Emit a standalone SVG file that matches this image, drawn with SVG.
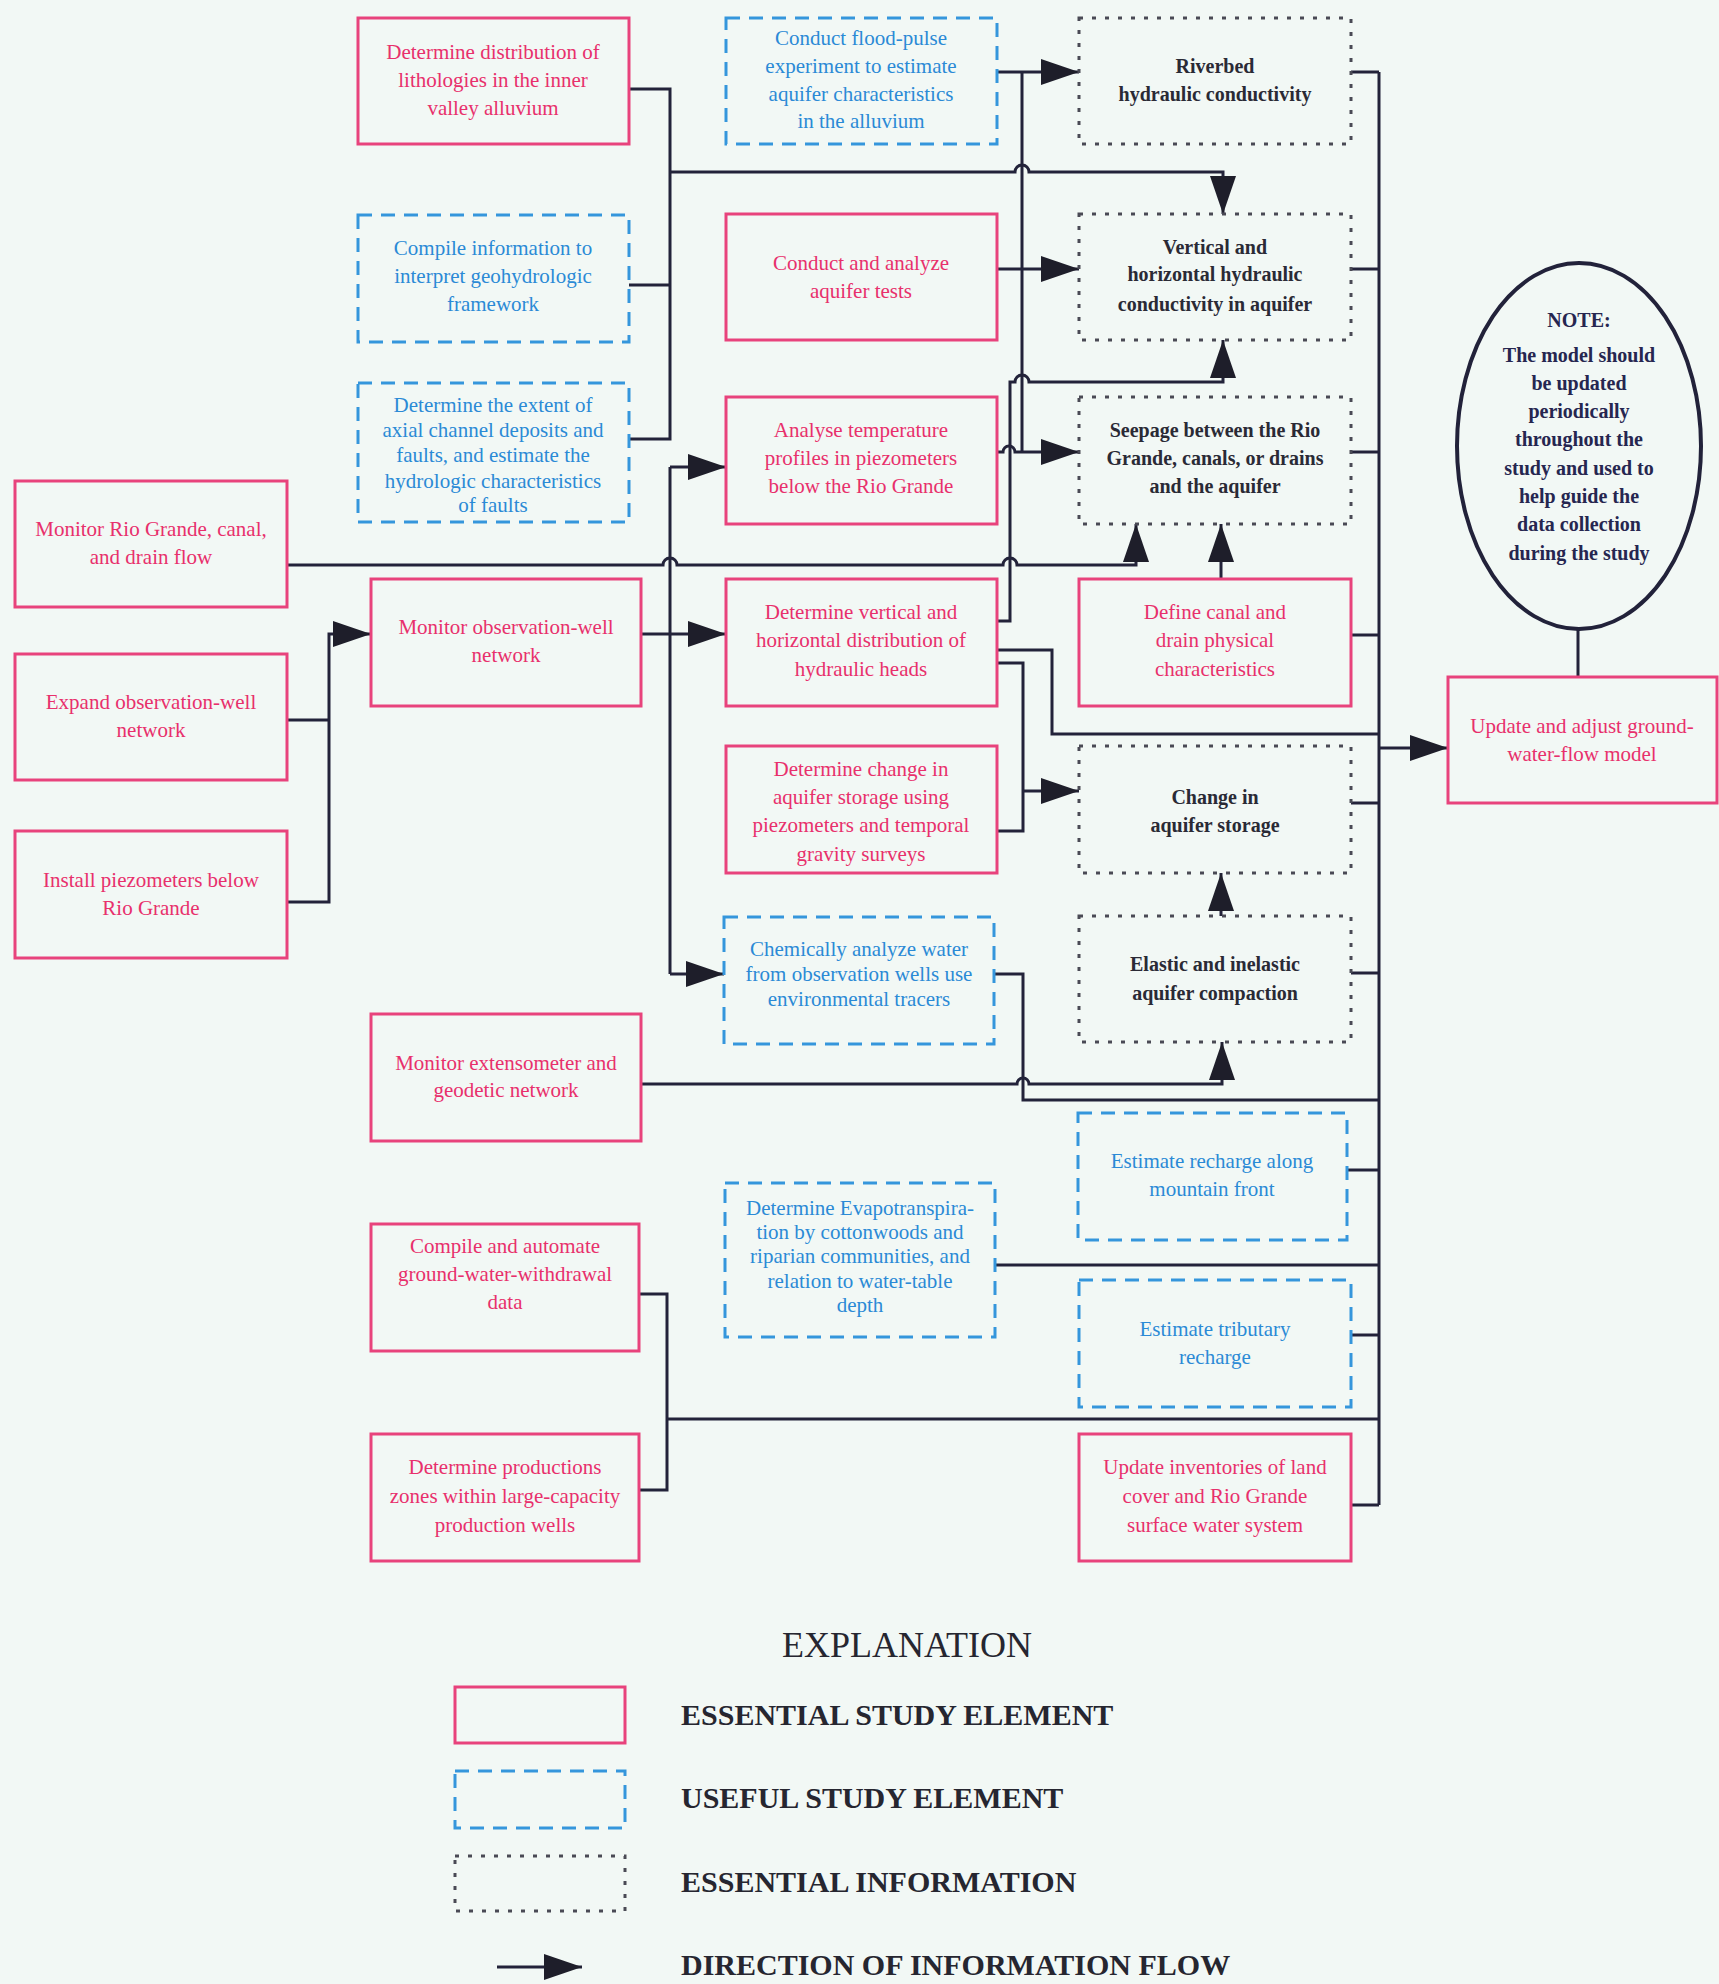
<svg xmlns="http://www.w3.org/2000/svg" width="1719" height="1984" viewBox="0 0 1719 1984">
<defs>
<marker id="ah" markerUnits="userSpaceOnUse" markerWidth="40" markerHeight="28" refX="38" refY="14" orient="auto">
<path d="M0,1 L38,14 L0,27 Z" fill="#1e1e2a"/>
</marker>
<style>
.ess{fill:none;stroke:#e8437c;stroke-width:3}
.use{fill:none;stroke:#3596dc;stroke-width:3;stroke-dasharray:14 9}
.inf{fill:none;stroke:#4a4a55;stroke-width:3;stroke-dasharray:4 9}
.c{fill:none;stroke:#23233a;stroke-width:3}
.ca{fill:none;stroke:#23233a;stroke-width:3;marker-end:url(#ah)}
text{font-family:"Liberation Serif","Times New Roman",serif;text-anchor:middle}
.tp{fill:#e8306c;font-size:21px}
.tb{fill:#2b8ad6;font-size:21px}
.td{fill:#2a2a35;font-size:20px;font-weight:bold}
.tn{fill:#262650;font-size:20px;font-weight:bold}
.lg{fill:#262630;font-size:30px;font-weight:bold;text-anchor:start}
</style>
</defs>
<rect width="1719" height="1984" fill="#f2f8f5"/>

<g id="connectors">
<path class="c" d="M287,720 H329"/>
<path class="ca" d="M287,902 H329 V634 H371"/>
<path class="c" d="M629,89 H670 V439 H629"/>
<path class="c" d="M629,285 H670"/>
<path class="ca" d="M670,172 H1015 A7,7 0 0 1 1029,172 H1223 V214"/>
<path class="c" d="M670,467 V974"/>
<path class="ca" d="M670,467 H726"/>
<path class="ca" d="M670,974 H724"/>
<path class="ca" d="M641,634 H726"/>
<path class="ca" d="M287,565 H663 A7,7 0 0 1 677,565 H1003 A7,7 0 0 1 1017,565 H1136 V524"/>
<path class="ca" d="M997,72 H1079"/>
<path class="c" d="M1022,72 V452"/>
<path class="ca" d="M997,269 H1079"/>
<path class="ca" d="M997,452 H1003 A6,6 0 0 1 1015,452 H1079"/>
<path class="ca" d="M997,621 H1010 V382 H1015 A7,7 0 0 1 1029,382 H1223 V340"/>
<path class="c" d="M997,650 H1052 V734 H1379"/>
<path class="c" d="M997,663 H1023 V831 H997"/>
<path class="ca" d="M1023,791 H1079"/>
<path class="ca" d="M1221,579 V524"/>
<path class="ca" d="M1221,916 V873"/>
<path class="c" d="M994,974 H1023 V1100 H1379"/>
<path class="ca" d="M641,1084 H1017 A6,6 0 0 1 1029,1084 H1222 V1042"/>
<path class="c" d="M1379,72 V1505"/>
<path class="c" d="M1351,72 H1379"/>
<path class="c" d="M1351,269 H1379"/>
<path class="c" d="M1351,452 H1379"/>
<path class="c" d="M1351,635 H1379"/>
<path class="c" d="M1351,803 H1379"/>
<path class="c" d="M1351,973 H1379"/>
<path class="c" d="M1347,1170 H1379"/>
<path class="c" d="M995,1265 H1379"/>
<path class="c" d="M1351,1335 H1379"/>
<path class="c" d="M1351,1505 H1379"/>
<path class="c" d="M639,1294 H667 V1490 H639"/>
<path class="c" d="M667,1419 H1379"/>
<path class="ca" d="M1379,748 H1448"/>
<path class="c" d="M1578,629 V677" stroke-width="4"/>
</g>

<g id="n-monitor-rio">
<rect class="ess" x="15" y="481" width="272" height="126"/>
<text class="tp" x="151" y="536">Monitor Rio Grande, canal,</text>
<text class="tp" x="151" y="564">and drain flow</text>
</g>
<g id="n-expand">
<rect class="ess" x="15" y="654" width="272" height="126"/>
<text class="tp" x="151" y="709">Expand observation-well</text>
<text class="tp" x="151" y="737">network</text>
</g>
<g id="n-install">
<rect class="ess" x="15" y="831" width="272" height="127"/>
<text class="tp" x="151" y="887">Install piezometers below</text>
<text class="tp" x="151" y="915">Rio Grande</text>
</g>

<g id="n-lithology">
<rect class="ess" x="358" y="18" width="271" height="126"/>
<text class="tp" x="493" y="59">Determine distribution of</text>
<text class="tp" x="493" y="87">lithologies in the inner</text>
<text class="tp" x="493" y="115">valley alluvium</text>
</g>
<g id="n-geohydro">
<rect class="use" x="358" y="215" width="271" height="127"/>
<text class="tb" x="493" y="255">Compile information to</text>
<text class="tb" x="493" y="283">interpret geohydrologic</text>
<text class="tb" x="493" y="311">framework</text>
</g>
<g id="n-axial">
<rect class="use" x="358" y="383" width="271" height="139"/>
<text class="tb" x="493" y="412">Determine the extent of</text>
<text class="tb" x="493" y="437">axial channel deposits and</text>
<text class="tb" x="493" y="462">faults, and estimate the</text>
<text class="tb" x="493" y="488">hydrologic characteristics</text>
<text class="tb" x="493" y="512">of faults</text>
</g>
<g id="n-obswell">
<rect class="ess" x="371" y="579" width="270" height="127"/>
<text class="tp" x="506" y="634">Monitor observation-well</text>
<text class="tp" x="506" y="662">network</text>
</g>
<g id="n-extensometer">
<rect class="ess" x="371" y="1014" width="270" height="127"/>
<text class="tp" x="506" y="1070">Monitor extensometer and</text>
<text class="tp" x="506" y="1097">geodetic network</text>
</g>
<g id="n-withdrawal">
<rect class="ess" x="371" y="1224" width="268" height="127"/>
<text class="tp" x="505" y="1253">Compile and automate</text>
<text class="tp" x="505" y="1281">ground-water-withdrawal</text>
<text class="tp" x="505" y="1309">data</text>
</g>
<g id="n-production">
<rect class="ess" x="371" y="1434" width="268" height="127"/>
<text class="tp" x="505" y="1474">Determine productions</text>
<text class="tp" x="505" y="1503">zones within large-capacity</text>
<text class="tp" x="505" y="1532">production wells</text>
</g>

<g id="n-floodpulse">
<rect class="use" x="726" y="18" width="271" height="126"/>
<text class="tb" x="861" y="45">Conduct flood-pulse</text>
<text class="tb" x="861" y="73">experiment to estimate</text>
<text class="tb" x="861" y="101">aquifer characteristics</text>
<text class="tb" x="861" y="128">in the alluvium</text>
</g>
<g id="n-aquifertests">
<rect class="ess" x="726" y="214" width="271" height="126"/>
<text class="tp" x="861" y="270">Conduct and analyze</text>
<text class="tp" x="861" y="298">aquifer tests</text>
</g>
<g id="n-temperature">
<rect class="ess" x="726" y="397" width="271" height="127"/>
<text class="tp" x="861" y="437">Analyse temperature</text>
<text class="tp" x="861" y="465">profiles in piezometers</text>
<text class="tp" x="861" y="493">below the Rio Grande</text>
</g>
<g id="n-heads">
<rect class="ess" x="726" y="579" width="271" height="127"/>
<text class="tp" x="861" y="619">Determine vertical and</text>
<text class="tp" x="861" y="647">horizontal distribution of</text>
<text class="tp" x="861" y="676">hydraulic heads</text>
</g>
<g id="n-storage-change">
<rect class="ess" x="726" y="746" width="271" height="127"/>
<text class="tp" x="861" y="776">Determine change in</text>
<text class="tp" x="861" y="804">aquifer storage using</text>
<text class="tp" x="861" y="832">piezometers and temporal</text>
<text class="tp" x="861" y="861">gravity surveys</text>
</g>
<g id="n-chemical">
<rect class="use" x="724" y="917" width="270" height="127"/>
<text class="tb" x="859" y="956">Chemically analyze water</text>
<text class="tb" x="859" y="981">from observation wells use</text>
<text class="tb" x="859" y="1006">environmental tracers</text>
</g>
<g id="n-evapo">
<rect class="use" x="725" y="1183" width="270" height="154"/>
<text class="tb" x="860" y="1215">Determine Evapotranspira-</text>
<text class="tb" x="860" y="1239">tion by cottonwoods and</text>
<text class="tb" x="860" y="1263">riparian communities, and</text>
<text class="tb" x="860" y="1288">relation to water-table</text>
<text class="tb" x="860" y="1312">depth</text>
</g>

<g id="n-riverbed">
<rect class="inf" x="1079" y="18" width="272" height="126"/>
<text class="td" x="1215" y="73">Riverbed</text>
<text class="td" x="1215" y="101">hydraulic conductivity</text>
</g>
<g id="n-vhk">
<rect class="inf" x="1079" y="214" width="272" height="126"/>
<text class="td" x="1215" y="254">Vertical and</text>
<text class="td" x="1215" y="281">horizontal hydraulic</text>
<text class="td" x="1215" y="311">conductivity in aquifer</text>
</g>
<g id="n-seepage">
<rect class="inf" x="1079" y="397" width="272" height="127"/>
<text class="td" x="1215" y="437">Seepage between the Rio</text>
<text class="td" x="1215" y="465">Grande, canals, or drains</text>
<text class="td" x="1215" y="493">and the aquifer</text>
</g>
<g id="n-canal">
<rect class="ess" x="1079" y="579" width="272" height="127"/>
<text class="tp" x="1215" y="619">Define canal and</text>
<text class="tp" x="1215" y="647">drain physical</text>
<text class="tp" x="1215" y="676">characteristics</text>
</g>
<g id="n-change-storage">
<rect class="inf" x="1079" y="746" width="272" height="127"/>
<text class="td" x="1215" y="804">Change in</text>
<text class="td" x="1215" y="832">aquifer storage</text>
</g>
<g id="n-compaction">
<rect class="inf" x="1079" y="916" width="272" height="126"/>
<text class="td" x="1215" y="971">Elastic and inelastic</text>
<text class="td" x="1215" y="1000">aquifer compaction</text>
</g>
<g id="n-recharge-mountain">
<rect class="use" x="1078" y="1113" width="269" height="127"/>
<text class="tb" x="1212" y="1168">Estimate recharge along</text>
<text class="tb" x="1212" y="1196">mountain front</text>
</g>
<g id="n-tributary">
<rect class="use" x="1079" y="1280" width="272" height="127"/>
<text class="tb" x="1215" y="1336">Estimate tributary</text>
<text class="tb" x="1215" y="1364">recharge</text>
</g>
<g id="n-inventories">
<rect class="ess" x="1079" y="1434" width="272" height="127"/>
<text class="tp" x="1215" y="1474">Update inventories of land</text>
<text class="tp" x="1215" y="1503">cover and Rio Grande</text>
<text class="tp" x="1215" y="1532">surface water system</text>
</g>

<g id="n-note">
<ellipse cx="1579" cy="446" rx="122" ry="183" fill="none" stroke="#22223a" stroke-width="4"/>
<text class="tn" x="1579" y="327">NOTE:</text>
<text class="tn" x="1579" y="362">The model should</text>
<text class="tn" x="1579" y="390">be updated</text>
<text class="tn" x="1579" y="418">periodically</text>
<text class="tn" x="1579" y="446">throughout the</text>
<text class="tn" x="1579" y="475">study and used to</text>
<text class="tn" x="1579" y="503">help guide the</text>
<text class="tn" x="1579" y="531">data collection</text>
<text class="tn" x="1579" y="560">during the study</text>
</g>
<g id="n-model">
<rect class="ess" x="1448" y="677" width="269" height="126"/>
<text class="tp" x="1582" y="733">Update and adjust ground-</text>
<text class="tp" x="1582" y="761">water-flow model</text>
</g>

<g id="legend">
<text x="907" y="1657" font-size="36" fill="#262630">EXPLANATION</text>
<rect class="ess" x="455" y="1687" width="170" height="56"/>
<rect class="use" x="455" y="1771" width="170" height="57"/>
<rect class="inf" x="455" y="1856" width="170" height="55"/>
<text class="lg" x="681" y="1725">ESSENTIAL STUDY ELEMENT</text>
<text class="lg" x="681" y="1808">USEFUL STUDY ELEMENT</text>
<text class="lg" x="681" y="1892">ESSENTIAL INFORMATION</text>
<text class="lg" x="681" y="1975">DIRECTION OF INFORMATION FLOW</text>
<path class="ca" d="M497,1967 H582"/>
</g>
</svg>
